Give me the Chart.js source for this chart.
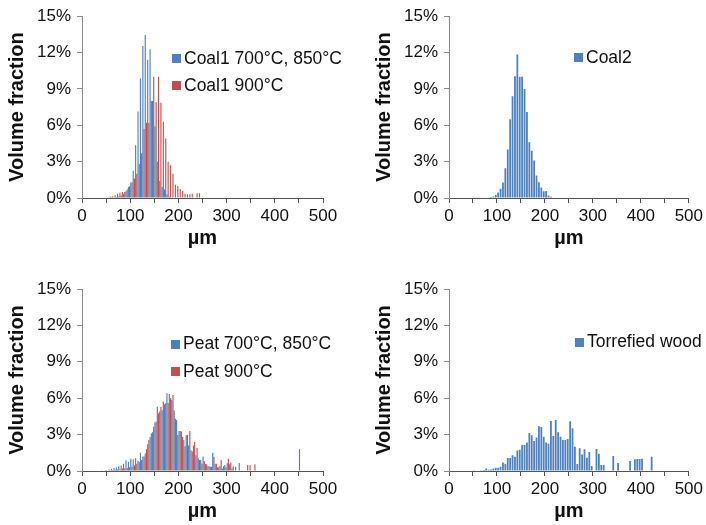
<!DOCTYPE html>
<html>
<head>
<meta charset="utf-8">
<script src="https://cdn.jsdelivr.net/npm/chart.js@4.4.1/dist/chart.umd.min.js"></script>
<style>
  html, body { margin: 0; padding: 0; background: #ffffff; }
  #wrap { position: relative; width: 706px; height: 525px; overflow: hidden; }
  #wrap canvas { position: absolute; }
</style>
</head>
<body>
<div id="wrap">
  <canvas id="coal1" width="353" height="262" style="left:0;top:0"></canvas>
  <canvas id="coal2" width="353" height="262" style="left:353px;top:0"></canvas>
  <canvas id="peat" width="353" height="263" style="left:0;top:262px"></canvas>
  <canvas id="wood" width="353" height="263" style="left:353px;top:262px"></canvas>
</div>
<script>
// Particle size distributions: bin centre (µm) and volume fraction (%) per bin.

const coal1Size = [57.5, 62.5, 67.5, 72.5, 77.5, 82.5, 87.5, 92.5, 97.5, 102.5,
  107.5, 112.5, 117.5, 122.5, 127.5, 132.5, 137.5, 142.5, 147.5, 152.5,
  157.5, 162.5, 167.5, 172.5, 177.5, 182.5, 187.5, 192.5, 197.5, 202.5,
  207.5, 212.5, 217.5, 222.5, 227.5, 232.5, 237.5, 242.5];
const coal1Low = [0.02, 0.03, 0.05, 0.08, 0.12, 0.2, 0.35, 0.55, 0.9, 1.28,
  2.24, 4.36, 7.14, 9.87, 12.54, 13.44, 11.4, 12.27, 8.0, 5.9,
  3.0, 1.4, 0.9, 0.7, 0.3, 0.1, 0, 0, 0, 0,
  0, 0, 0, 0, 0, 0, 0, 0];
const coal1High = [0.1, 0.15, 0.22, 0.36, 0.44, 0.5, 0.5, 0.7, 0.96, 1.3,
  1.6, 2.0, 2.8, 3.7, 5.7, 6.2, 6.2, 8.0, 10.0, 7.9,
  10.0, 7.85, 6.3, 4.9, 3.0, 2.7, 2.0, 1.1, 1.0, 0.75,
  0.6, 0.35, 0.3, 0.3, 0.35, 0, 0.4, 0.4];

const coal2Size = [57.5, 62.5, 67.5, 72.5, 77.5, 82.5, 87.5, 92.5, 97.5, 102.5,
  107.5, 112.5, 117.5, 122.5, 127.5, 132.5, 137.5, 142.5, 147.5, 152.5,
  157.5, 162.5, 167.5, 172.5, 177.5, 182.5, 187.5, 192.5, 197.5, 202.5,
  207.5, 212.5, 217.5];
const coal2Frac = [0.03, 0.03, 0.04, 0.05, 0.05, 0.06, 0.08, 0.12, 0.27, 0.46,
  0.76, 1.28, 2.45, 4.0, 6.5, 8.4, 10.05, 11.85, 10.0, 10.0,
  9.0, 7.1, 4.6, 3.9, 3.1, 1.85, 1.3, 0.87, 0.55, 0.57,
  0.2, 0.1, 0.05];

const peatSize = [42.5, 47.5, 52.5, 57.5, 62.5, 67.5, 72.5, 77.5, 82.5, 87.5,
  92.5, 97.5, 102.5, 107.5, 112.5, 117.5, 122.5, 127.5, 132.5, 137.5,
  142.5, 147.5, 152.5, 157.5, 162.5, 167.5, 172.5, 177.5, 182.5, 187.5,
  192.5, 197.5, 202.5, 207.5, 212.5, 217.5, 222.5, 227.5, 232.5, 237.5,
  242.5, 247.5, 252.5, 257.5, 262.5, 267.5, 272.5, 277.5, 282.5, 287.5,
  292.5, 297.5, 302.5, 307.5, 312.5, 317.5, 327.5, 342.5, 347.5, 357.5,
  452.5];
const peatLow = [0.03, 0.05, 0.08, 0.12, 0.18, 0.25, 0.3, 0.4, 0.45, 0.6,
  0.88, 0.77, 1.0, 0.96, 1.05, 0.85, 1.5, 1.2, 1.45, 2.2,
  2.8, 3.2, 4.0, 5.3, 4.9, 5.0, 5.5, 6.4, 6.35, 5.85,
  5.0, 4.2, 3.3, 3.25, 2.55, 2.95, 2.1, 1.7, 2.1, 1.3,
  1.05, 0.9, 1.2, 0.58, 0.4, 0.35, 1.5, 0.6, 0.3, 0.44,
  0.2, 0.5, 0.63, 0.55, 0.2, 0, 0.66, 0, 0, 0,
  1.8];
const peatHigh = [0, 0.02, 0.04, 0.06, 0.08, 0.1, 0.12, 0.15, 0.2, 0.22,
  0.25, 0.3, 0.35, 0.45, 0.6, 0.75, 0.9, 1.2, 1.8, 2.55,
  3.1, 3.65, 4.07, 4.75, 5.3, 5.7, 5.58, 5.6, 6.0, 6.26,
  4.3, 2.97, 3.3, 2.8, 2.05, 2.97, 3.3, 1.6, 2.4, 1.9,
  0.9, 0.6, 0.8, 0.55, 0.4, 0.35, 1.18, 0.6, 0.3, 0.9,
  0.4, 0.3, 1.0, 0.7, 0.4, 0.35, 0, 0.5, 0.5, 0.55,
  0];

const woodSize = [52.5, 57.5, 62.5, 67.5, 72.5, 77.5, 82.5, 87.5, 92.5, 97.5,
  102.5, 107.5, 112.5, 117.5, 122.5, 127.5, 132.5, 137.5, 142.5, 147.5,
  152.5, 157.5, 162.5, 167.5, 172.5, 177.5, 182.5, 187.5, 192.5, 197.5,
  202.5, 207.5, 212.5, 217.5, 222.5, 227.5, 232.5, 237.5, 242.5, 247.5,
  252.5, 257.5, 262.5, 267.5, 272.5, 277.5, 282.5, 287.5, 292.5, 297.5,
  302.5, 307.5, 312.5, 317.5, 322.5, 342.5, 352.5, 377.5, 387.5, 392.5,
  397.5, 402.5, 422.5];
const woodFrac = [0.03, 0.04, 0.05, 0.06, 0.08, 0.2, 0.1, 0.12, 0.2, 0.27,
  0.27, 0.35, 0.7, 0.6, 1.07, 1.07, 1.3, 1.18, 1.68, 1.76,
  2.14, 2.14, 2.34, 3.13, 2.94, 2.47, 2.77, 3.68, 3.63, 2.83,
  2.34, 2.25, 4.12, 2.88, 4.2, 3.19, 2.83, 2.55, 2.55, 2.64,
  4.09, 3.52, 2.0, 0.58, 1.87, 1.37, 1.79, 1.1, 1.57, 0.41,
  0, 1.81, 1.43, 0.49, 0.49, 1.24, 0.66, 0.82, 0.96, 0.99,
  0.99, 1.0, 1.18];

const yTicks = [0, 3, 6, 9, 12, 15];
const xTickLabels = [0, 100, 200, 300, 400, 500];

const BLUE = '#4f81bd';
const RED = '#c0504d';
const FONT = "'Liberation Sans', Arial, sans-serif";
const TEXT = '#111111';

// Legend drawn inside the plot area, one row per dataset.
const insideLegend = {
  id: 'insideLegend',
  afterDatasetsDraw(chart, args, opts) {
    const ctx = chart.ctx;
    const area = chart.chartArea;
    ctx.save();
    ctx.font = '17.5px ' + FONT;
    ctx.textBaseline = 'middle';
    ctx.textAlign = 'left';
    chart.data.datasets.forEach((ds, i) => {
      const x = area.left + opts.left;
      const cy = area.top + opts.top + i * opts.gap;
      ctx.fillStyle = ds.backgroundColor;
      ctx.fillRect(Math.round(x), Math.round(cy - 4.5), 9, 9);
      ctx.fillStyle = TEXT;
      ctx.fillText(ds.label, x + 12, cy + 0.5);
    });
    ctx.restore();
  }
};

function makePanel(id, sizes, datasets, cfg) {
  const canvas = document.getElementById(id);
  const W = canvas.width, H = canvas.height;
  const xAxisH = 52;
  new Chart(canvas, {
    type: 'bar',
    data: { labels: sizes, datasets: datasets },
    options: {
      responsive: false,
      animation: false,
      devicePixelRatio: 1,
      layout: {
        padding: {
          left: 0,
          top: cfg.plotTop,
          right: W - cfg.plotRight,
          bottom: H - cfg.plotBottom - xAxisH
        }
      },
      datasets: {
        bar: {
          categoryPercentage: 1.0,
          barPercentage: datasets.length > 1 ? 0.95 : 0.75,
          borderWidth: 0
        }
      },
      plugins: {
        legend: { display: false },
        tooltip: { enabled: false },
        insideLegend: cfg.legend
      },
      scales: {
        x: {
          type: 'linear',
          min: 0,
          max: 500,
          offset: false,
          afterFit: (s) => { s.height = xAxisH; },
          afterBuildTicks: (s) => {
            const t = [];
            for (let v = 0; v <= 500; v += 50) t.push({ value: v });
            s.ticks = t;
          },
          ticks: {
            autoSkip: false,
            maxRotation: 0,
            padding: 3,
            color: TEXT,
            font: { family: FONT, size: 17 },
            callback: (v) => (xTickLabels.includes(v) ? String(v) : '')
          },
          grid: {
            offset: false,
            drawOnChartArea: false,
            drawTicks: true,
            tickLength: 5,
            color: '#555555'
          },
          border: { display: true, color: '#555555', width: 1 },
          title: {
            display: true,
            text: 'µm',
            color: TEXT,
            font: { family: FONT, size: 20, weight: 'bold' },
            padding: { top: 0, bottom: 0 }
          }
        },
        y: {
          min: 0,
          max: 15,
          afterFit: (s) => { s.width = cfg.plotLeft; },
          afterBuildTicks: (s) => { s.ticks = yTicks.map((v) => ({ value: v })); },
          ticks: {
            padding: 6,
            color: TEXT,
            font: { family: FONT, size: 17 },
            callback: (v) => v + '%'
          },
          grid: {
            drawOnChartArea: false,
            drawTicks: true,
            tickLength: 5,
            color: '#8a8a8a'
          },
          border: { display: true, color: '#8a8a8a', width: 1 },
          title: {
            display: true,
            text: 'Volume fraction',
            color: TEXT,
            font: { family: FONT, size: 20, weight: 'bold' },
            padding: { top: cfg.titlePad, bottom: 0 }
          }
        }
      }
    },
    plugins: [insideLegend]
  });
}

makePanel('coal1', coal1Size, [
  { label: 'Coal1 700°C, 850°C', data: coal1Low, backgroundColor: BLUE },
  { label: 'Coal1 900°C', data: coal1High, backgroundColor: RED }
], { plotLeft: 82, plotRight: 323, plotTop: 15, plotBottom: 198, titlePad: 5,
     legend: { left: 90, top: 42, gap: 27 } });

makePanel('coal2', coal2Size, [
  { label: 'Coal2', data: coal2Frac, backgroundColor: BLUE }
], { plotLeft: 96, plotRight: 336, plotTop: 15, plotBottom: 198, titlePad: 19,
     legend: { left: 125, top: 41, gap: 27 } });

makePanel('peat', peatSize, [
  { label: 'Peat 700°C, 850°C', data: peatLow, backgroundColor: BLUE },
  { label: 'Peat 900°C', data: peatHigh, backgroundColor: RED }
], { plotLeft: 82, plotRight: 323, plotTop: 27, plotBottom: 209, titlePad: 5,
     legend: { left: 89, top: 55, gap: 27.5 } });

makePanel('wood', woodSize, [
  { label: 'Torrefied wood', data: woodFrac, backgroundColor: BLUE }
], { plotLeft: 96, plotRight: 336, plotTop: 27, plotBottom: 209, titlePad: 19,
     legend: { left: 126, top: 53, gap: 27 } });
</script>
</body>
</html>
